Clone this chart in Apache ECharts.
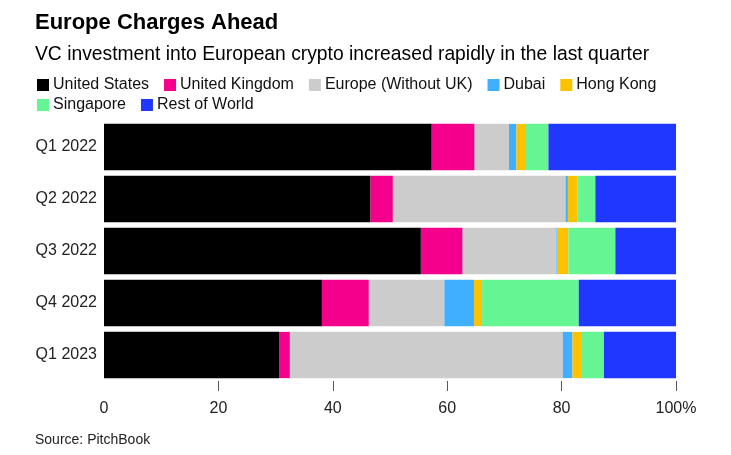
<!DOCTYPE html>
<html>
<head>
<meta charset="utf-8">
<script src="https://cdn.jsdelivr.net/npm/echarts@6/dist/echarts.min.js"></script>
<style>html,body{margin:0;padding:0;background:#fff}#c{width:731px;height:455px}</style>
</head>
<body>
<div id="c"></div>
<script>
var categories = ['Q1 2022', 'Q2 2022', 'Q3 2022', 'Q4 2022', 'Q1 2023'];
var seriesNames = ['United States', 'United Kingdom', 'Europe (Without UK)', 'Dubai', 'Hong Kong', 'Singapore', 'Rest of World'];
var unitedStates = [57.3, 46.6, 55.4, 38.1, 30.6];
var unitedKingdom = [7.5, 3.9, 7.3, 8.2, 1.9];
var europeWithoutUK = [6.0, 30.2, 16.4, 13.2, 47.7];
var dubai = [1.3, 0.4, 0.2, 5.2, 1.7];
var hongKong = [1.5, 1.7, 1.9, 1.4, 1.5];
var singapore = [4.1, 3.1, 8.2, 16.9, 4.0];
var restOfWorld = [22.3, 14.1, 10.7, 17.0, 12.6];
var tickValues = [0, 20, 40, 60, 80, 100];
var colors = ['#000000', '#f5008c', '#cccccc', '#40affe', '#fcc200', '#66f593', '#2037ff'];

var allData = [unitedStates, unitedKingdom, europeWithoutUK, dubai, hongKong, singapore, restOfWorld];
var fontFam = '"Liberation Sans", Arial, sans-serif';

var legendBase = {
  itemWidth: 12, itemHeight: 12, itemGap: 15,
  icon: 'rect',
  textStyle: {fontFamily: fontFam, fontSize: 16, color: '#111', padding: [0, 0, 0, -1]}
};

var chart = echarts.init(document.getElementById('c'));
chart.setOption({
  animation: false,
  color: colors,
  title: [
    {text: 'Europe Charges Ahead', left: 30, top: 7,
     textStyle: {fontFamily: fontFam, fontSize: 22, fontWeight: 'bold', color: '#000'}},
    {text: 'VC investment into European crypto increased rapidly in the last quarter', left: 30, top: 40,
     textStyle: {fontFamily: fontFam, fontSize: 19.3, fontWeight: 'normal', color: '#000'}},
    {text: 'Source: PitchBook', left: 30, top: 428,
     textStyle: {fontFamily: fontFam, fontSize: 14, fontWeight: 'normal', color: '#222'}}
  ],
  legend: [
    Object.assign({left: 32, top: 72, data: seriesNames.slice(0, 5)}, legendBase),
    Object.assign({left: 32, top: 92, data: seriesNames.slice(5)}, legendBase)
  ],
  grid: {left: 104, right: 55, top: 121, bottom: 74, containLabel: false},
  xAxis: {
    type: 'value', min: 0, max: 100, interval: 20,
    axisLine: {show: false},
    splitLine: {show: false},
    axisTick: {show: true, length: 10, lineStyle: {color: '#555'}, customValues: [20, 40, 60, 80, 100]},
    axisLabel: {
      margin: 20, color: '#222', fontFamily: fontFam, fontSize: 16,
      customValues: tickValues,
      formatter: function (v) { return v === 100 ? '100%' : String(v); }
    }
  },
  yAxis: {
    type: 'category', data: categories, inverse: true,
    axisLine: {show: false}, axisTick: {show: false},
    axisLabel: {margin: 7, color: '#222', fontFamily: fontFam, fontSize: 16}
  },
  series: seriesNames.map(function (name, i) {
    return {
      name: name, type: 'bar', stack: 'total',
      barCategoryGap: '11%',
      data: allData[i],
      itemStyle: {color: colors[i]}
    };
  })
});
</script>
</body>
</html>
